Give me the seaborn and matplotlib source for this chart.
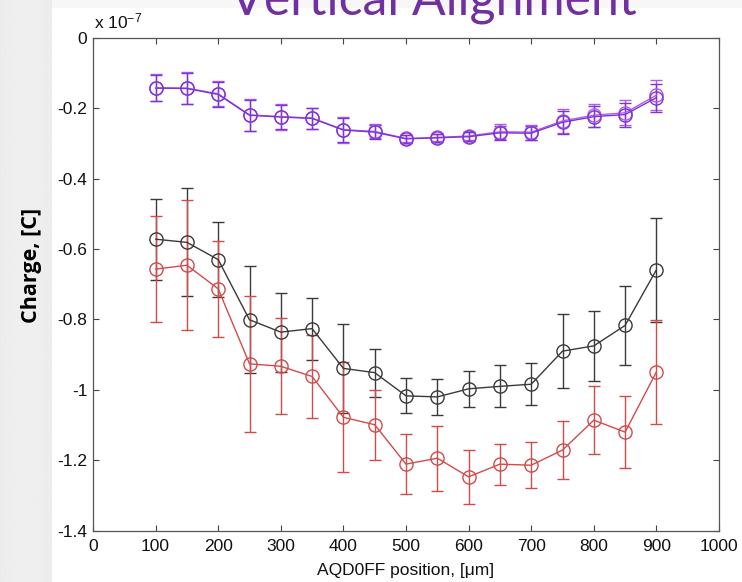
import numpy as np
import pandas as pd
import matplotlib
matplotlib.use("Agg")
import matplotlib.pyplot as plt
from matplotlib.patches import Rectangle
import seaborn as sns

# AQD0FF scan positions [um]
positions = [100, 150, 200, 250, 300, 350, 400, 450, 500,
             550, 600, 650, 700, 750, 800, 850, 900]

# Charge in units of 1e-7 C, with one-sigma errors
black_mean = [-0.572, -0.581, -0.630, -0.801, -0.836, -0.826, -0.939, -0.951, -1.017,
              -1.020, -0.997, -0.990, -0.984, -0.890, -0.875, -0.817, -0.659]
black_err = [0.115, 0.153, 0.106, 0.152, 0.112, 0.088, 0.126, 0.068, 0.050,
             0.052, 0.052, 0.060, 0.060, 0.105, 0.100, 0.112, 0.148]

red_mean = [-0.657, -0.646, -0.713, -0.926, -0.933, -0.962, -1.078, -1.099, -1.211,
            -1.194, -1.247, -1.211, -1.214, -1.171, -1.086, -1.120, -0.949]
red_err = [0.150, 0.185, 0.137, 0.193, 0.136, 0.117, 0.156, 0.100, 0.085,
           0.092, 0.076, 0.058, 0.065, 0.083, 0.096, 0.103, 0.147]

violet_mean = [-0.142, -0.143, -0.159, -0.219, -0.224, -0.228, -0.261, -0.266, -0.286,
               -0.283, -0.279, -0.267, -0.268, -0.236, -0.220, -0.213, -0.163]
violet_err = [0.038, 0.045, 0.036, 0.046, 0.037, 0.030, 0.037, 0.020, 0.010,
              0.010, 0.012, 0.021, 0.021, 0.034, 0.032, 0.036, 0.042]

purple_mean = [-0.143, -0.144, -0.161, -0.220, -0.225, -0.229, -0.262, -0.268, -0.287,
               -0.284, -0.281, -0.270, -0.271, -0.240, -0.224, -0.218, -0.170]
purple_err = [0.036, 0.044, 0.035, 0.044, 0.035, 0.029, 0.035, 0.019, 0.011,
              0.011, 0.013, 0.020, 0.020, 0.032, 0.030, 0.034, 0.040]

x_ticks = [0, 100, 200, 300, 400, 500, 600, 700, 800, 900, 1000]
y_ticks = [0, -0.2, -0.4, -0.6, -0.8, -1.0, -1.2, -1.4]
y_tick_labels = ["0", "-0.2", "-0.4", "-0.6", "-0.8", "-1", "-1.2", "-1.4"]

series = [
    ("black", black_mean, black_err, "#3a3a3a"),
    ("red", red_mean, red_err, "#d24b4b"),
    ("violet", violet_mean, violet_err, "#b35ae8"),
    ("purple", purple_mean, purple_err, "#7d34d4"),
]

frames = []
for name, mean, err, _ in series:
    frames.append(pd.DataFrame({"position": positions, "charge": mean,
                                "err": err, "series": name}))
df = pd.concat(frames, ignore_index=True)

sns.set_style("ticks")
plt.rcParams["font.family"] = ["Liberation Sans", "DejaVu Sans"]
plt.rcParams["mathtext.fontset"] = "custom"
plt.rcParams["mathtext.rm"] = "Liberation Sans"
plt.rcParams["mathtext.it"] = "Liberation Sans"

W, H = 742, 582
fig = plt.figure(figsize=(W / 100, H / 100), dpi=100, facecolor="#f7f7f7")

# white panel holding the plot, behind everything else
fig.patches.append(Rectangle((52 / W, 0), 1 - 52 / W, 1 - 8 / H,
                             transform=fig.transFigure, facecolor="white",
                             edgecolor="none", zorder=-5))

# slide background: light grey strip at the left with a faint gradient
bg = fig.add_axes([0, 0, 52 / W, 1], zorder=-4)
grad = np.linspace(0, 1, 60)
shade = 0.925 + 0.012 * np.sin(grad * np.pi)
bg.imshow(np.tile(shade, (10, 1)), cmap="gray", vmin=0, vmax=1,
          aspect="auto", extent=[0, 1, 0, 1])
bg.set_axis_off()

ax = fig.add_axes([93 / W, 1 - 530.7 / H, (719 - 93) / W, (530.7 - 37.8) / H],
                  zorder=1)
ax.set_facecolor("white")

for name, mean, err, color in series:
    sub = df[df["series"] == name]
    ax.errorbar(sub["position"], sub["charge"], yerr=sub["err"], fmt="none",
                ecolor=color, elinewidth=1.0, capsize=4.5, capthick=1.0, zorder=2)
    sns.lineplot(data=sub, x="position", y="charge", ax=ax, color=color,
                 linewidth=1.0, marker="o", markersize=9.5,
                 markerfacecolor="none", markeredgecolor=color,
                 markeredgewidth=1.0, legend=False, zorder=3)

ax.set_xlim(0, 1000)
ax.set_ylim(-1.4, 0)
ax.set_xticks(x_ticks)
ax.set_xticklabels([str(t) for t in x_ticks])
ax.set_yticks(y_ticks)
ax.set_yticklabels(y_tick_labels)
ax.tick_params(direction="in", length=4.5, width=0.8, color="#444444",
               top=True, right=True, labelsize=12.5, labelcolor="#111111")
ax.tick_params(axis="x", pad=6)
ax.tick_params(axis="y", pad=4)
for sp in ax.spines.values():
    sp.set_visible(True)
    sp.set_color("#555555")
    sp.set_linewidth(0.9)

ax.set_xlabel("")
ax.set_ylabel("")
fig.text(406 / W, 1 - 570 / H, "AQD0FF position, [\u03bcm]", ha="center",
         va="center", fontsize=12.5, color="#111111")
fig.text(94 / W, 1 - 28 / H, "x 10$^{-7}$", ha="left", va="baseline",
         fontsize=12.5, color="#111111")
fig.text(31 / W, 1 - 265 / H, "Charge, [C]", rotation=90, ha="center",
         va="center", fontsize=15.5, fontweight="bold", family="Open Sans",
         color="#000000")
fig.text(433 / W, 1 - 14 / H, "Vertical Alignment", ha="center",
         va="baseline", fontsize=36, color="#7030a0", family="Lato")

fig.savefig("out.png", dpi=100, facecolor=fig.get_facecolor())
